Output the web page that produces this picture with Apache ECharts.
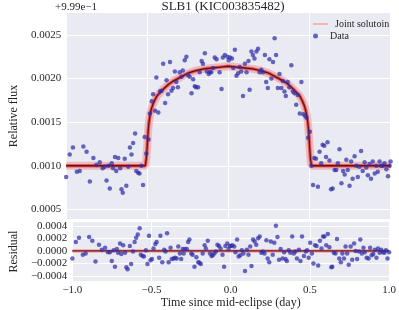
<!DOCTYPE html>
<html><head><meta charset="utf-8">
<script src="https://cdn.jsdelivr.net/npm/echarts@6/dist/echarts.min.js"></script>
<style>html,body{margin:0;padding:0;background:#fff}#c{width:399px;height:310px}</style>
</head><body><div id="c"></div>
<script>
const dataTime = [-1.000,-0.978,-0.958,-0.934,-0.916,-0.894,-0.874,-0.854,-0.832,-0.814,-0.793,-0.775,-0.763,-0.751,-0.739,-0.731,-0.719,-0.711,-0.699,-0.691,-0.679,-0.667,-0.659,-0.651,-0.639,-0.629,-0.617,-0.607,-0.597,-0.587,-0.575,-0.568,-0.556,-0.548,-0.536,-0.526,-0.516,-0.506,
-0.492,-0.484,-0.472,-0.464,-0.452,-0.444,-0.432,-0.422,-0.412,-0.402,-0.390,-0.381,-0.372,-0.360,-0.351,-0.341,-0.330,-0.321,-0.311,-0.300,-0.289,-0.281,-0.269,-0.259,-0.249,-0.239,-0.227,-0.217,-0.207,-0.199,-0.187,-0.177,-0.165,-0.157,-0.145,-0.133,-0.121,-0.114,-0.106,-0.094,-0.084,-0.073,-0.054,-0.042,-0.034,-0.022,-0.006,
0.002,0.010,0.022,0.030,0.040,0.050,0.060,0.070,0.079,0.090,0.102,0.112,0.124,0.131,0.142,0.151,0.161,0.173,0.183,0.193,0.203,0.213,0.225,0.233,0.243,0.253,0.265,0.275,0.285,0.294,0.305,0.315,0.327,0.336,0.346,0.354,0.366,0.376,0.388,0.398,0.408,0.418,0.428,0.440,0.450,0.462,0.474,0.482,0.492,0.502,
0.512,0.522,0.530,0.540,0.552,0.562,0.572,0.581,0.591,0.602,0.611,0.623,0.633,0.643,0.655,0.665,0.675,0.685,0.697,0.707,0.717,0.727,0.736,0.747,0.757,0.766,0.778,0.789,0.798,0.808,0.818,0.828,0.840,0.850,0.860,0.870,0.879,0.890,0.902,0.912,0.921,0.932,0.942,0.952,0.962,0.974,0.984,0.994,1.000];
const dataFlux = [0.00087,0.00113,0.00121,0.00093,0.00094,0.00122,0.00116,0.00082,0.00109,0.00101,0.00104,0.00097,0.00099,0.00083,0.00100,0.00074,0.00103,0.00097,0.00110,0.00094,0.00109,0.00097,0.00073,0.00069,0.00108,0.00077,0.00099,0.00121,0.00113,0.00126,0.00137,0.00094,0.00092,0.00091,0.00100,0.00078,0.00133,0.00114,
0.00130,0.00160,0.00174,0.00182,0.00163,0.00201,0.00161,0.00185,0.00186,0.00217,0.00172,0.00198,0.00182,0.00219,0.00186,0.00189,0.00208,0.00196,0.00190,0.00207,0.00202,0.00209,0.00221,0.00225,0.00204,0.00202,0.00183,0.00199,0.00191,0.00190,0.00190,0.00207,0.00220,0.00217,0.00229,0.00208,0.00205,0.00207,0.00207,0.00212,0.00224,0.00222,0.00207,0.00188,0.00224,0.00227,0.00225,
0.00221,0.00224,0.00223,0.00212,0.00233,0.00203,0.00206,0.00213,0.00208,0.00180,0.00217,0.00207,0.00220,0.00187,0.00231,0.00227,0.00223,0.00231,0.00234,0.00207,0.00210,0.00207,0.00227,0.00196,0.00189,0.00222,0.00200,0.00219,0.00246,0.00227,0.00189,0.00205,0.00189,0.00197,0.00185,0.00180,0.00196,0.00190,0.00215,0.00185,0.00183,0.00170,0.00181,0.00160,0.00196,0.00159,0.00157,0.00155,0.00132,0.00139,
0.00100,0.00078,0.00109,0.00108,0.00076,0.00116,0.00103,0.00124,0.00123,0.00110,0.00127,0.00106,0.00073,0.00074,0.00095,0.00095,0.00103,0.00119,0.00080,0.00094,0.00090,0.00107,0.00095,0.00077,0.00105,0.00085,0.00111,0.00100,0.00087,0.00099,0.00117,0.00094,0.00104,0.00098,0.00089,0.00102,0.00085,0.00105,0.00091,0.00100,0.00093,0.00105,0.00100,0.00100,0.00103,0.00096,0.00088,0.00100,0.00105];

const residTime = [-1.000,-0.978,-0.958,-0.934,-0.916,-0.894,-0.874,-0.854,-0.832,-0.814,-0.793,-0.775,-0.763,-0.751,-0.739,-0.731,-0.719,-0.711,-0.699,-0.691,-0.679,-0.667,-0.659,-0.651,-0.637,-0.629,-0.617,-0.607,-0.597,-0.587,-0.575,-0.568,-0.556,-0.548,-0.536,-0.526,-0.516,-0.506,-0.498,-0.488,-0.476,-0.468,-0.452,-0.444,-0.432,-0.420,-0.412,-0.402,-0.392,-0.380,-0.372,-0.360,-0.352,-0.341,-0.331,-0.321,-0.313,-0.303,-0.297,-0.289,-0.277,-0.269,-0.261,-0.249,-0.241,-0.229,-0.217,-0.205,-0.197,-0.189,-0.177,-0.165,-0.157,-0.145,-0.131,-0.121,-0.114,-0.104,-0.094,-0.084,-0.074,-0.064,-0.052,-0.042,-0.034,-0.022,-0.014,-0.004,
0.000,0.010,0.022,0.030,0.040,0.050,0.060,0.070,0.080,0.090,0.102,0.112,0.123,0.131,0.141,0.151,0.161,0.173,0.183,0.193,0.203,0.213,0.225,0.233,0.243,0.253,0.265,0.275,0.285,0.295,0.305,0.315,0.327,0.337,0.346,0.354,0.366,0.376,0.388,0.398,0.408,0.418,0.430,0.440,0.450,0.462,0.474,0.482,0.492,0.502,0.512,0.522,0.532,0.542,0.552,0.563,0.573,0.583,0.591,0.603,0.613,0.623,0.635,0.641,0.651,0.661,0.671,0.685,0.695,0.705,0.715,0.725,0.735,0.745,0.757,0.767,0.779,0.789,0.798,0.810,0.818,0.828,0.838,0.846,0.858,0.870,0.880,0.890,0.900,0.910,0.920,0.930,0.940,0.950,0.960,0.970,0.980,0.990,1.000];
const residValue = [-0.00012,0.00014,0.00021,-0.00006,-0.00004,0.00022,0.00016,-0.00017,0.00010,0.00002,0.00005,-0.00002,-0.00002,-0.00016,0.00001,-0.00025,0.00003,-0.00003,0.00012,-0.00005,0.00009,-0.00003,-0.00026,-0.00029,0.00008,-0.00021,-0.00001,0.00014,0.00021,0.00026,0.00036,-0.00006,-0.00008,-0.00009,0.00001,-0.00021,0.00024,-0.00015,-0.00013,0.00004,0.00011,0.00014,-0.00011,0.00024,-0.00018,0.00002,-0.00001,0.00028,-0.00018,0.00005,-0.00013,-0.00012,-0.00011,-0.00012,0.00007,-0.00004,-0.00013,0.00003,-0.00004,0.00003,0.00003,0.00014,0.00018,-0.00004,-0.00006,-0.00025,-0.00010,-0.00018,-0.00019,-0.00021,-0.00004,0.00009,0.00004,0.00016,-0.00004,-0.00008,-0.00007,-0.00004,-0.00001,0.00010,0.00008,0.00004,-0.00006,-0.00025,0.00008,0.00012,0.00003,0.00008,
0.00008,0.00009,0.00007,-0.00002,0.00018,-0.00009,-0.00007,0.00001,-0.00004,-0.00032,0.00002,-0.00006,0.00007,-0.00024,0.00018,0.00015,0.00010,0.00020,0.00023,-0.00003,-0.00001,-0.00004,0.00017,-0.00012,-0.00018,0.00015,-0.00006,0.00013,0.00040,0.00022,-0.00014,0.00003,-0.00012,-0.00002,-0.00013,-0.00016,0.00001,-0.00003,0.00023,-0.00004,-0.00001,-0.00012,0.00002,-0.00016,0.00023,-0.00008,-0.00001,0.00001,-0.00011,0.00013,-0.00004,-0.00020,0.00009,0.00008,-0.00023,0.00016,0.00004,0.00023,0.00023,0.00009,0.00027,0.00006,-0.00026,-0.00025,-0.00003,-0.00004,0.00019,-0.00012,-0.00018,-0.00004,-0.00012,0.00007,-0.00004,-0.00022,0.00007,-0.00014,0.00012,0.00000,-0.00013,-0.00001,0.00018,-0.00004,0.00005,-0.00002,-0.00011,-0.00012,0.00005,-0.00007,-0.00005,0.00002,-0.00011,0.00004,-0.00003,0.00002,-0.00002,-0.00003,0.00001,-0.00012,-0.00002];

const modelTime = [-1.0,-0.512,-0.506,-0.502,-0.498,-0.494,-0.490,-0.484,-0.476,-0.466,-0.454,-0.440,-0.420,-0.400,-0.370,-0.340,-0.300,-0.250,-0.200,-0.150,-0.100,-0.050,0.000,0.050,0.100,0.150,0.200,0.250,0.300,0.340,0.370,0.400,0.420,0.440,0.454,0.466,0.476,0.484,0.490,0.494,0.498,0.502,0.506,0.512,1.0];
const modelFlux = [0.00100,0.00100,0.00108,0.00118,0.00130,0.00141,0.00149,0.00157,0.00164,0.00170,0.00175,0.00180,0.00184,0.00188,0.00193,0.00197,0.00201,0.00206,0.00209,0.00211,0.00212,0.00213,0.00214,0.00213,0.00212,0.00211,0.00209,0.00206,0.00201,0.00197,0.00193,0.00188,0.00184,0.00180,0.00175,0.00170,0.00164,0.00157,0.00149,0.00141,0.00130,0.00118,0.00108,0.00100,0.00100];
const zeroTime = [-1.0, 1.0];
const zeroValue = [0, 0];

const timeTicks = [-1.0, -0.5, 0.0, 0.5, 1.0];
const fluxTicks = [0.0005, 0.0010, 0.0015, 0.0020, 0.0025];
const residTicks = [-0.0004, -0.0002, 0.0000, 0.0002, 0.0004];

const titleText = 'SLB1 (KIC003835482)';
const offsetText = '+9.99e\u22121';
const seriesNames = ['Joint solutoin', 'Data'];

const zip = (a, b) => a.map((v, i) => [v, b[i]]);
const SERIF = "'Liberation Serif','DejaVu Serif',serif";
const TXT = '#262626';
const fmt = (v, d) => v.toFixed(d).replace('-', '\u2212');

const chart = echarts.init(document.getElementById('c'), null, {renderer: 'canvas'});
const modelData = zip(modelTime, modelFlux);
const zeroData = zip(zeroTime, zeroValue);
const lineBase = {type: 'line', symbol: 'none', silent: true, animation: false};

chart.setOption({
  animation: false,
  backgroundColor: '#ffffff',
  graphic: [
    {type: 'text', x: 223, y: 0, style: {text: titleText, font: "13px 'Liberation Serif','DejaVu Serif',serif", fill: TXT, align: 'center', verticalAlign: 'top'}},
    {type: 'text', x: 55, y: 2, style: {text: offsetText, font: "11px 'Liberation Serif','DejaVu Serif',serif", fill: TXT, align: 'left', verticalAlign: 'top'}}
  ],
  legend: [
    {data: [{name: seriesNames[0], icon: 'rect', itemStyle: {color: '#f2a3a8', borderWidth: 0}}],
     left: 313, top: 19, padding: 0, itemWidth: 15, itemHeight: 1.5, itemGap: 5,
     textStyle: {fontFamily: SERIF, fontSize: 10, color: TXT, padding: [0, 0, 0, 2]}},
    {data: [seriesNames[1]], left: 313, top: 31, padding: 0, itemWidth: 15, itemHeight: 5, itemGap: 5,
     textStyle: {fontFamily: SERIF, fontSize: 10, color: TXT, padding: [0, 0, 0, 2]}}
  ],
  grid: [
    {left: 55.6, top: 13, width: 335, height: 206, show: true, backgroundColor: '#EAEAF2', borderWidth: 0},
    {left: 55.6, top: 222, width: 335, height: 60, show: true, backgroundColor: '#EAEAF2', borderWidth: 0}
  ],
  xAxis: [
    {gridIndex: 0, type: 'value', min: -1, max: 1, interval: 0.5,
     axisLine: {show: false}, axisTick: {show: false}, axisLabel: {show: false},
     splitLine: {show: true, lineStyle: {color: '#ffffff', width: 1}}},
    {gridIndex: 1, type: 'value', min: -1, max: 1, interval: 0.5,
     axisLine: {show: false}, axisTick: {show: false},
     axisLabel: {show: true, margin: 4, fontFamily: SERIF, fontSize: 11, color: TXT,
       customValues: timeTicks, formatter: v => fmt(v, 1)},
     splitLine: {show: true, lineStyle: {color: '#ffffff', width: 1}},
     name: 'Time since mid-eclipse (day)', nameLocation: 'middle', nameGap: 14,
     nameTextStyle: {fontFamily: SERIF, fontSize: 12, color: TXT}}
  ],
  yAxis: [
    {gridIndex: 0, type: 'value', min: 0.00039, max: 0.00275,
     axisLine: {show: false}, axisTick: {show: false, customValues: fluxTicks},
     axisLabel: {margin: 5, fontFamily: SERIF, fontSize: 11, color: TXT, customValues: fluxTicks, formatter: v => fmt(v, 4)},
     splitLine: {show: true, lineStyle: {color: '#ffffff', width: 1}},
     name: 'Relative flux', nameLocation: 'middle', nameGap: 37, nameRotate: 90,
     nameTextStyle: {fontFamily: SERIF, fontSize: 12, color: TXT}},
    {gridIndex: 1, type: 'value', min: -0.00048, max: 0.00046,
     axisLine: {show: false}, axisTick: {show: false, customValues: residTicks},
     axisLabel: {margin: 5, fontFamily: SERIF, fontSize: 11, color: TXT, customValues: residTicks, formatter: v => fmt(v, 4)},
     splitLine: {show: true, lineStyle: {color: '#ffffff', width: 1}},
     name: 'Residual', nameLocation: 'middle', nameGap: 42, nameRotate: 90,
     nameTextStyle: {fontFamily: SERIF, fontSize: 12, color: TXT}}
  ],
  series: [
    Object.assign({}, lineBase, {name: seriesNames[0], xAxisIndex: 0, yAxisIndex: 0, data: modelData, z: 2,
      lineStyle: {width: 8, color: 'rgba(240,130,135,0.45)'}}),
    Object.assign({}, lineBase, {name: 'model-mid', xAxisIndex: 0, yAxisIndex: 0, data: modelData, z: 3,
      lineStyle: {width: 3.5, color: 'rgba(222,70,70,0.8)'}}),
    Object.assign({}, lineBase, {name: 'model-core', xAxisIndex: 0, yAxisIndex: 0, data: modelData, z: 4,
      lineStyle: {width: 1.3, color: '#6e0b0b'}}),
    {type: 'scatter', name: seriesNames[1], xAxisIndex: 0, yAxisIndex: 0, data: zip(dataTime, dataFlux), z: 5,
      symbolSize: 4.5, itemStyle: {color: '#2f2fa8', opacity: 0.72}, silent: true},
    Object.assign({}, lineBase, {name: 'zero-band', xAxisIndex: 1, yAxisIndex: 1, data: zeroData, z: 2,
      lineStyle: {width: 3, color: 'rgba(225,100,100,0.7)'}}),
    Object.assign({}, lineBase, {name: 'zero-core', xAxisIndex: 1, yAxisIndex: 1, data: zeroData, z: 3,
      lineStyle: {width: 1.2, color: '#7a1515'}}),
    {type: 'scatter', name: 'Residuals', xAxisIndex: 1, yAxisIndex: 1, data: zip(residTime, residValue), z: 5,
      symbolSize: 4.5, itemStyle: {color: '#2f2fa8', opacity: 0.72}, silent: true}
  ]
});
</script></body></html>
